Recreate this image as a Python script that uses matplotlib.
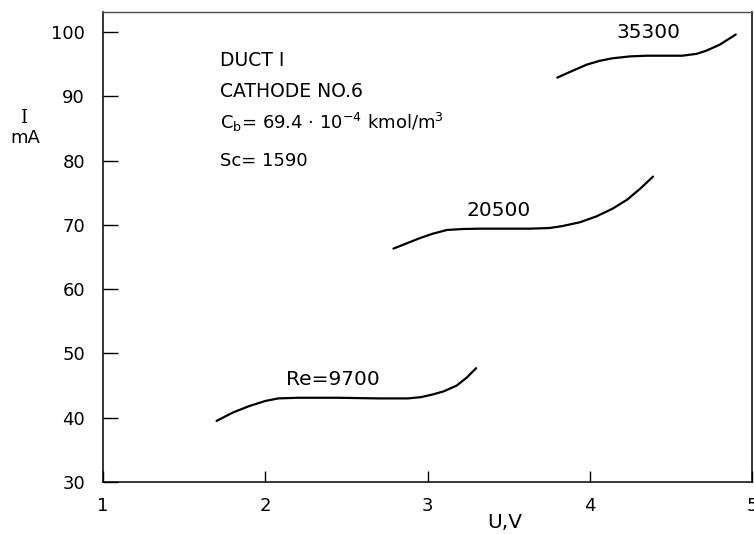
import matplotlib
matplotlib.use("Agg")
import matplotlib.pyplot as plt

# current vs voltage, duct I, cathode no.6
plt.rcParams['font.family'] = ['DejaVu Sans']
plt.rcParams['mathtext.default'] = 'regular'

u_9700 = [1.70, 1.80, 1.90, 2.00, 2.08, 2.20, 2.45, 2.70, 2.88, 2.96, 3.03, 3.10, 3.18, 3.24, 3.30]
i_9700 = [39.5, 40.8, 41.8, 42.6, 43.0, 43.1, 43.1, 43.0, 43.0, 43.2, 43.6, 44.1, 45.0, 46.2, 47.7]

u_20500 = [2.79, 2.87, 2.95, 3.03, 3.12, 3.22, 3.32, 3.48, 3.63, 3.75, 3.83, 3.94, 4.04, 4.14, 4.23, 4.31, 4.39]
i_20500 = [66.3, 67.1, 67.9, 68.6, 69.2, 69.35, 69.4, 69.4, 69.4, 69.5, 69.8, 70.4, 71.3, 72.5, 73.9, 75.6, 77.5]

u_35300 = [3.80, 3.88, 3.98, 4.06, 4.14, 4.25, 4.35, 4.45, 4.57, 4.66, 4.72, 4.80, 4.85, 4.90]
i_35300 = [92.9, 93.8, 94.9, 95.5, 95.9, 96.2, 96.3, 96.3, 96.3, 96.6, 97.1, 98.0, 98.8, 99.6]

curve_labels = ['Re=9700', '20500', '35300']

fig = plt.figure(figsize=(7.54, 5.34), dpi=100)
ax = fig.add_axes([103/754, 1 - 482/534, 649/754, 470/534])

for u, i in [(u_9700, i_9700), (u_20500, i_20500), (u_35300, i_35300)]:
    ax.plot(u, i, color='black', lw=1.6, solid_capstyle='round')

ax.set_xlim(1, 5)
ax.set_ylim(30, 103.1)
ax.set_xticks([1, 2, 3, 4, 5])
ax.set_yticks([30, 40, 50, 60, 70, 80, 90, 100])
ax.tick_params(axis='y', direction='in', length=11, width=1.0, pad=13, labelsize=13)
ax.tick_params(axis='x', direction='in', length=8, width=1.0, pad=11, labelsize=13)

for s in ['left', 'bottom', 'right']:
    ax.spines[s].set_linewidth(1.1)
ax.spines['top'].set_linewidth(1.0)
ax.spines['top'].set_color('0.3')

# curve labels
ax.text(2.13, 46.0, curve_labels[0], fontsize=14.5, ha='left', va='center')
ax.text(3.44, 72.2, curve_labels[1], fontsize=14.5, ha='center', va='center')
ax.text(4.36, 99.9, curve_labels[2], fontsize=14.5, ha='center', va='center')

# info block
ax.text(1.72, 95.5, 'DUCT I', fontsize=13.5, ha='left', va='center')
ax.text(1.72, 90.8, 'CATHODE NO.6', fontsize=13.5, ha='left', va='center')
ax.text(1.72, 85.9, r'C$_b$= 69.4 $\cdot$ 10$^{-4}$ kmol/m$^3$', fontsize=13, ha='left', va='center')
ax.text(1.72, 80.0, 'Sc= 1590', fontsize=13, ha='left', va='center')

# axis labels
fig.text(24/754, 1 - 118/534, 'I', fontsize=13, ha='center', va='center', family='DejaVu Serif')
fig.text(25/754, 1 - 138/534, 'mA', fontsize=13, ha='center', va='center')
fig.text(505/754, 1 - 523/534, 'U,V', fontsize=14.5, ha='center', va='center')

fig.savefig('out.png', dpi=100)
